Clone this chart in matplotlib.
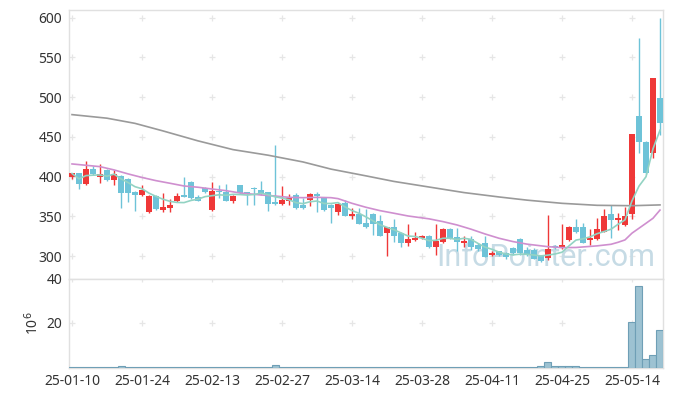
#!/usr/bin/env python3
"""Gráfico de velas diario con medias móviles y volumen."""

import matplotlib

matplotlib.use("Agg")

import matplotlib.pyplot as plt
import numpy as np
import pandas as pd

plt.rcParams["font.family"] = ["Noto Sans", "DejaVu Sans"]

# Etiquetas del eje x (cada 10 sesiones)
tick_labels = [
    "25-01-10", "25-01-24", "25-02-13", "25-02-27", "25-03-14",
    "25-03-28", "25-04-11", "25-04-25", "25-05-14",
]

opens = [
    399, 404.5, 390.5, 409.5, 400, 409, 396, 401, 397, 381,
    377.5, 355, 376, 358.5, 361, 369.5, 377.5, 393.5, 374.5, 385.5,
    357.5, 382, 380.5, 370, 389.5, 380.5, 386, 383, 380.5, 368,
    366, 370, 377.5, 364.5, 370.5, 378, 373.5, 364.5, 355, 366.5,
    351, 352.5, 342, 352.5, 344, 329.5, 336.5, 329.5, 317, 321,
    323, 325.5, 311.5, 318.5, 334.5, 324, 317, 321.5, 313.5, 316.5,
    302, 306, 304, 310.5, 321.5, 308, 307.5, 300, 298, 313,
    310, 320.5, 337, 337, 321, 322, 331, 353, 345, 339,
    353, 476, 444, 430, 499,
]
highs = [
    405, 405, 420, 414, 415.5, 410, 409, 402, 398, 382,
    389, 377, 377, 380, 372, 379, 399, 394, 377, 387,
    393, 390, 390.5, 377, 390, 381, 386.5, 394, 381, 440,
    388, 378, 379, 373, 380, 381, 375, 366, 367, 371,
    360, 361, 359, 354, 352, 337, 347, 331, 340.5, 330,
    327, 327, 340, 335.5, 336, 335, 325.5, 325, 316, 326,
    306, 307, 305, 312, 323, 311, 310, 301, 351.5, 314.5,
    340.5, 338, 347, 342, 334, 348, 359, 365, 354, 362,
    454, 574, 445, 524, 600,
]
lows = [
    397, 385, 390, 402, 392, 395, 389, 360, 368.5, 357,
    376, 354, 358, 355, 355, 368, 374, 372, 369, 379,
    357, 373, 369, 366.5, 378, 364.5, 364.5, 377, 357, 365,
    365, 365, 359, 359, 363.5, 356, 357, 341.5, 352, 350,
    346.5, 340, 336, 327, 325, 300.5, 317.5, 312, 312.5, 319,
    322, 310, 301.5, 316, 322, 306, 312, 308, 306, 299,
    300, 300, 297, 302, 302, 300, 296, 293, 295.5, 309,
    309, 319, 329, 316, 314, 321, 330, 322.5, 333, 338,
    347, 429.5, 403, 424, 452.5,
]
closes = [
    404, 390.5, 409.5, 403.5, 403.5, 396, 403.5, 380, 380, 377.5,
    383, 376, 359.5, 362, 364.5, 376, 375, 373, 370, 380.5,
    382, 380.5, 370, 376, 379, 379, 384, 378.5, 366, 366,
    371, 373.5, 360, 360, 378, 375.5, 358, 360, 365.5, 351,
    352.5, 341, 337, 341, 326, 336.5, 326, 317, 321.5, 323,
    325.5, 311, 319, 334.5, 323, 317.5, 319, 312, 309, 299.5,
    304, 301.5, 299.5, 304, 304, 303, 297, 294, 309, 311,
    314, 337, 330.5, 317, 323, 334, 350.5, 345, 348, 351,
    453.5, 443, 404, 523.5, 468,
]

# Volumen en millones de acciones
volume = [
    0.1, 0.1, 0.1, 0.1, 0.1, 0.1, 0.1, 0.5, 0.1, 0.1,
    0.1, 0.1, 0.1, 0.1, 0.1, 0.1, 0.1, 0.1, 0.1, 0.1,
    0.1, 0.1, 0.1, 0.1, 0.1, 0.1, 0.1, 0.1, 0.1, 1.0,
    0.1, 0.1, 0.1, 0.1, 0.1, 0.1, 0.1, 0.1, 0.1, 0.1,
    0.1, 0.1, 0.1, 0.1, 0.1, 0.4, 0.1, 0.1, 0.1, 0.1,
    0.1, 0.1, 0.1, 0.1, 0.1, 0.1, 0.1, 0.1, 0.1, 0.4,
    0.1, 0.1, 0.1, 0.1, 0.1, 0.1, 0.1, 0.7, 2.3, 0.6,
    0.6, 0.6, 0.5, 0.1, 0.1, 0.1, 0.1, 0.4, 0.1, 0.1,
    20.4, 36.8, 3.9, 5.7, 17.0,
]

# Media móvil de 20 sesiones
ma20_idx = [0, 4, 6, 8, 10, 12, 14, 16, 18, 20, 22, 24, 27, 29, 31, 33, 35, 37, 38,
            40, 42, 44, 46, 48, 51, 53, 55, 57, 59, 61, 63, 65, 68, 70, 72, 75,
            77, 78, 79, 80, 82, 83, 84]
ma20_val = [416, 412.6, 408.5, 403.5, 399, 395, 391.7, 388.3, 386.7, 384.5, 382.4,
            379.5, 377, 375.7, 374, 373.6, 374, 373.6, 372.4, 366.5, 361.5, 357.3,
            354, 350.6, 347, 343.5, 339.3, 334, 328, 322.6, 318.4, 315.2, 312,
            310.8, 311, 313, 315, 317.5, 320.5, 329, 341.4, 347.7, 358]

# Media móvil larga
ma120_idx = [0, 5, 9, 13, 18, 23, 28, 33, 37, 42, 46, 51, 56, 61, 65, 70, 75, 80, 84]
ma120_val = [478, 473.5, 467, 457.5, 445, 434, 427, 418.5, 409.5, 401, 394, 387,
             380, 374.5, 370.5, 366.5, 364, 363.5, 364.5]

UP = "#ef3838"
DOWN = "#6ec3d8"
GRID = "#e6e6e6"
SPINE = "#e0e0e0"


def draw_candles(ax, o, h, l, c):
    x = np.arange(len(o))
    up = c >= o
    colors = np.where(up, UP, DOWN)
    ax.vlines(x, l, h, colors=colors, linewidth=1.0, zorder=3)
    bottom = np.minimum(o, c)
    height = np.maximum(np.abs(c - o), 0.8)
    ax.bar(x, height, bottom=bottom, width=0.72, color=colors, linewidth=0, zorder=4)


def style_axis(ax):
    for side in ("left", "right", "top", "bottom"):
        ax.spines[side].set_color(SPINE)
        ax.spines[side].set_linewidth(1.0)
    ax.tick_params(length=0, labelsize=10, colors="#333333", pad=5)


def main():
    o = np.array(opens, dtype=float)
    h = np.array(highs, dtype=float)
    l = np.array(lows, dtype=float)
    c = np.array(closes, dtype=float)
    n = len(c)
    x = np.arange(n)
    ma5 = pd.Series(c).rolling(5, min_periods=1).mean()

    fig = plt.figure(figsize=(6.73, 3.96), dpi=100)
    ax = fig.add_axes([69 / 673, 1 - 278.5 / 396, 594 / 673, 268.5 / 396])
    axv = fig.add_axes([69 / 673, 1 - 367.5 / 396, 594 / 673, 89 / 396], sharex=ax)

    xticks = np.arange(0, n, 10)
    yticks = np.arange(300, 601, 50)

    # rejilla en forma de cruces
    gx, gy = np.meshgrid(xticks, yticks)
    ax.scatter(gx.ravel(), gy.ravel(), marker="+", s=16, color=GRID, linewidths=0.9, zorder=1)

    # marca de agua, detrás de las velas
    ax.text(0.803, 0.047, "InfoPointer.com", transform=ax.transAxes, ha="center",
            va="baseline", fontsize=22, family="Roboto", color="#c6dbe5", zorder=2)

    draw_candles(ax, o, h, l, c)
    ax.plot(ma120_idx, ma120_val, color="#9a9a9a", linewidth=1.2, zorder=5)
    ax.plot(ma20_idx, ma20_val, color="#cf8fcf", linewidth=1.2, zorder=5)
    ax.plot(x, ma5, color="#93d3c3", linewidth=1.2, zorder=5)

    ax.set_xlim(-0.43, n - 0.57)
    ax.set_ylim(272, 609.5)
    ax.set_yticks(yticks)
    ax.tick_params(labelbottom=False)
    style_axis(ax)

    vx, vy = np.meshgrid(xticks, [20, 40])
    axv.scatter(vx.ravel(), vy.ravel(), marker="+", s=16, color=GRID, linewidths=0.9, zorder=1)
    axv.bar(x, volume, width=1.0, color="#9dc2d2", edgecolor="#6f9fb6", linewidth=0.8, zorder=3)
    axv.set_ylim(0, 40)
    axv.set_yticks([20, 40])
    axv.set_xticks(xticks)
    axv.set_xticklabels(tick_labels)
    axv.set_ylabel("10$^6$", fontsize=10, color="#333333", labelpad=3)
    style_axis(axv)

    fig.savefig("out.png", dpi=100, facecolor="white")


if __name__ == "__main__":
    main()
